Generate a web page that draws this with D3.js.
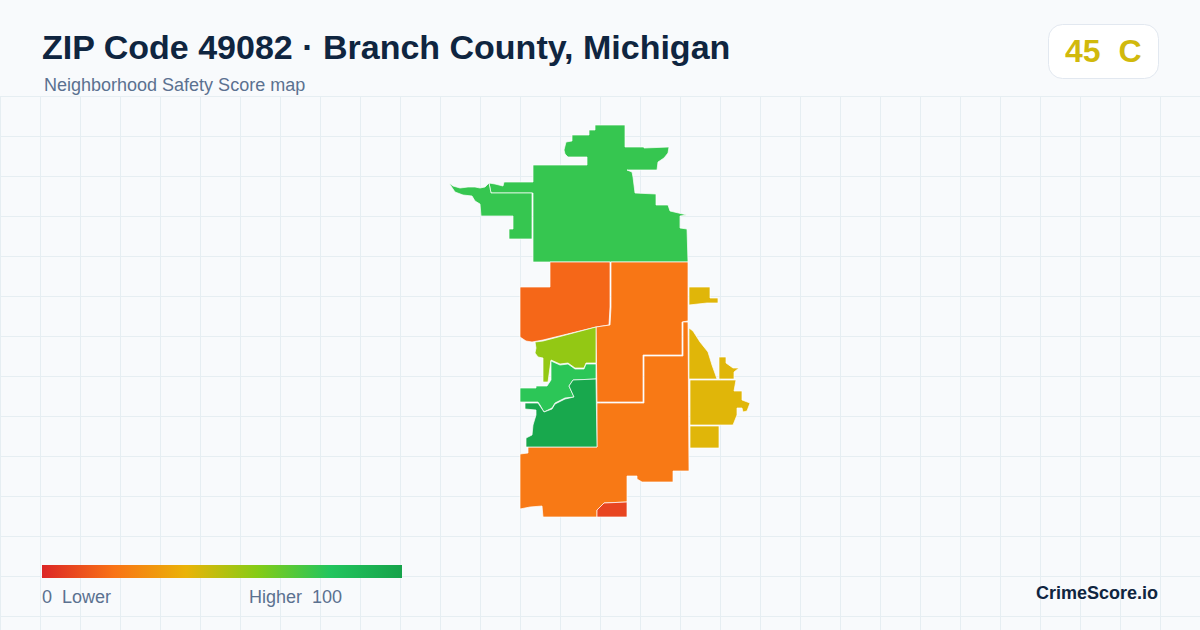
<!DOCTYPE html>
<html>
    <head>
        <title>ZIP Code 49082 map</title>
        <style>
            html, body { margin: 0; padding: 0; background: #f8fafc; }
            svg { display: block; }
            text { font-family: "Liberation Sans", Arial, sans-serif; white-space: pre; }
        </style>
    </head>

    <body>
        <div id="chart"></div>

        <script src="https://cdn.jsdelivr.net/npm/d3@7/dist/d3.min.js"></script>
        <script>
            var titleText = "ZIP Code 49082 \u00b7 Branch County, Michigan";
            var subtitleText = "Neighborhood Safety Score map";
            var overallScore = 45;
            var overallGrade = "C";
            var brandText = "CrimeScore.io";

            // legend colour ramp
            var rampStops = [0, 20, 40, 60, 80, 100];
            var rampColors = ["#dc2626", "#f97316", "#eab308", "#84cc16", "#22c55e", "#16a34a"];
            var legendLow = "0  Lower";
            var legendHigh = "Higher  100";

            // score of each block group, same order as regionShapes
            var regionScores = [76, 76, 17, 21, 22, 8, 57, 78, 97, 42, 42, 42, 42, 42];

            // outlines in map units
            var regionShapes = [
                [[93,50],[147,50],[147,42],[128,42],[125,39],[124,35],[126,27],[132,26],[132,20],[149,20],[149,15],[155,15],[155,10],[185,10],[185,32],[204,32],[204,33],[229,32],[228,38],[224,43],[218,47],[217,55],[187,55],[192,57],[193,62],[195,78],[216,79],[216,90],[228,90],[230,96],[247,100],[240,101],[240,113],[247,114],[248,147],[93,147],[93,78],[51,78],[49,68],[55,69],[63,71],[64,67],[93,67]],
                [[9,68],[13,71],[20,73],[28,72],[35,72],[40,73],[45,72],[49,68],[51,78],[92,78],[92,124],[69,124],[69,114],[73,114],[73,101],[41,101],[40,89],[35,86],[32,81],[23,80],[15,77]],
                [[110,147],[170,147],[170,192],[169,210],[156,212],[103,225],[92,227],[86,226],[80,222],[80,172],[110,172]],
                [[171,147],[248,147],[248,206],[242,207],[242,240],[203,240],[203,287],[157,287],[156,212],[170,210],[171,192]],
                [[204,241],[243,241],[243,207],[248,207],[249,356],[233,356],[233,367],[202,367],[197,364],[197,361],[187,361],[187,387],[164,388],[157,395],[157,402],[103,402],[102,391],[90,392],[80,394],[80,339],[88,338],[88,332],[157,332],[157,288],[204,288]],
                [[157,402],[157,395],[164,388],[187,387],[187,402]],
                [[156,212],[103,226],[95,227],[96,233],[95,238],[98,242],[103,243],[103,267],[108,267],[111,245],[120,249],[128,248],[135,253],[144,253],[146,248],[156,248]],
                [[111,246],[120,250],[128,249],[135,254],[144,254],[146,249],[156,249],[156,264],[133,265],[129,271],[134,282],[125,283],[115,288],[112,293],[104,297],[100,290],[98,287],[80,287],[80,273],[96,273],[96,271],[107,271],[111,265]],
                [[133,265],[156,264],[157,332],[86,332],[86,323],[92,320],[93,310],[96,300],[96,295],[85,294],[85,288],[98,288],[104,297],[112,294],[115,289],[125,284],[134,282],[129,271]],
                [[249,172],[270,172],[270,183],[278,183],[278,188],[267,188],[249,190]],
                [[249,213],[253,216],[260,227],[268,237],[272,250],[277,264],[249,264]],
                [[279,242],[286,242],[286,248],[293,253],[299,253],[294,257],[294,264],[279,264]],
                [[250,265],[296,265],[294,276],[302,276],[302,285],[310,288],[307,296],[303,297],[302,293],[297,293],[297,300],[295,305],[293,310],[250,310]],
                [[250,311],[279,311],[279,333],[250,333]]
            ];

            var w = 1200, h = 630;

            var svg = d3.select("#chart").append("svg")
                .attr("width", w)
                .attr("height", h);

            svg.append("rect")
                .attr("width", w)
                .attr("height", h)
                .style("fill", "#f8fafc");

            // background grid starts under the header
            var grid = svg.append("g")
                .style("stroke", "#e6eef2")
                .style("stroke-width", 1);

            grid.selectAll(".vline")
                .data(d3.range(0, w, 40))
                .enter().append("line")
                    .attr("class", "vline")
                    .attr("x1", function(d) { return d + 0.5; })
                    .attr("x2", function(d) { return d + 0.5; })
                    .attr("y1", 96)
                    .attr("y2", h);

            grid.selectAll(".hline")
                .data(d3.range(96, h, 40))
                .enter().append("line")
                    .attr("class", "hline")
                    .attr("x1", 0)
                    .attr("x2", w)
                    .attr("y1", function(d) { return d + 0.5; })
                    .attr("y2", function(d) { return d + 0.5; });

            var color = d3.scaleLinear()
                .domain(rampStops)
                .range(rampColors);

            var x = d3.scaleLinear().domain([0, 320]).range([440, 760]);
            var y = d3.scaleLinear().domain([0, 420]).range([115, 535]);

            var outline = d3.line()
                .x(function(d) { return x(d[0]); })
                .y(function(d) { return y(d[1]); });

            svg.selectAll(".region")
                .data(regionShapes)
                .enter().append("path")
                    .attr("class", "region")
                    .attr("d", function(d) { return outline(d) + "Z"; })
                    .style("fill", function(d, i) { return color(regionScores[i]); })
                    .style("stroke", "#ffffff")
                    .style("stroke-width", 0.7);

            // header
            svg.append("text")
                .text(titleText)
                .attr("x", 42)
                .attr("y", 59)
                .style("font-size", "34px")
                .style("font-weight", "bold")
                .style("fill", "#0f2540");

            svg.append("text")
                .text(subtitleText)
                .attr("x", 44)
                .attr("y", 91)
                .style("font-size", "18px")
                .style("fill", "#5b7190");

            svg.append("rect")
                .attr("x", 1048.5)
                .attr("y", 24.5)
                .attr("width", 110)
                .attr("height", 54)
                .attr("rx", 14)
                .style("fill", "#ffffff")
                .style("stroke", "#e2e8f0");

            svg.append("text")
                .text(overallScore + "  " + overallGrade)
                .attr("x", 1065)
                .attr("y", 62)
                .style("font-size", "32px")
                .style("font-weight", "bold")
                .style("fill", color(overallScore));

            // legend
            var legendScale = d3.scaleLinear().domain([0, 100]).range([42, 402]);

            var gradient = svg.append("defs").append("linearGradient")
                .attr("id", "ramp");

            gradient.selectAll("stop")
                .data(rampStops)
                .enter().append("stop")
                    .attr("offset", function(d) { return d + "%"; })
                    .attr("stop-color", function(d) { return color(d); });

            svg.append("rect")
                .attr("x", legendScale(0))
                .attr("y", 565)
                .attr("width", legendScale(100) - legendScale(0))
                .attr("height", 13)
                .style("fill", "url(#ramp)");

            svg.append("text")
                .text(legendLow)
                .attr("x", 42)
                .attr("y", 603)
                .style("font-size", "18px")
                .style("fill", "#5b7190");

            svg.append("text")
                .text(legendHigh)
                .attr("x", 249)
                .attr("y", 603)
                .style("font-size", "18px")
                .style("fill", "#5b7190");

            svg.append("text")
                .text(brandText)
                .attr("x", 1158)
                .attr("y", 599)
                .attr("text-anchor", "end")
                .style("font-size", "18px")
                .style("font-weight", "bold")
                .style("fill", "#0f2540");
        </script>
    </body>
</html>
